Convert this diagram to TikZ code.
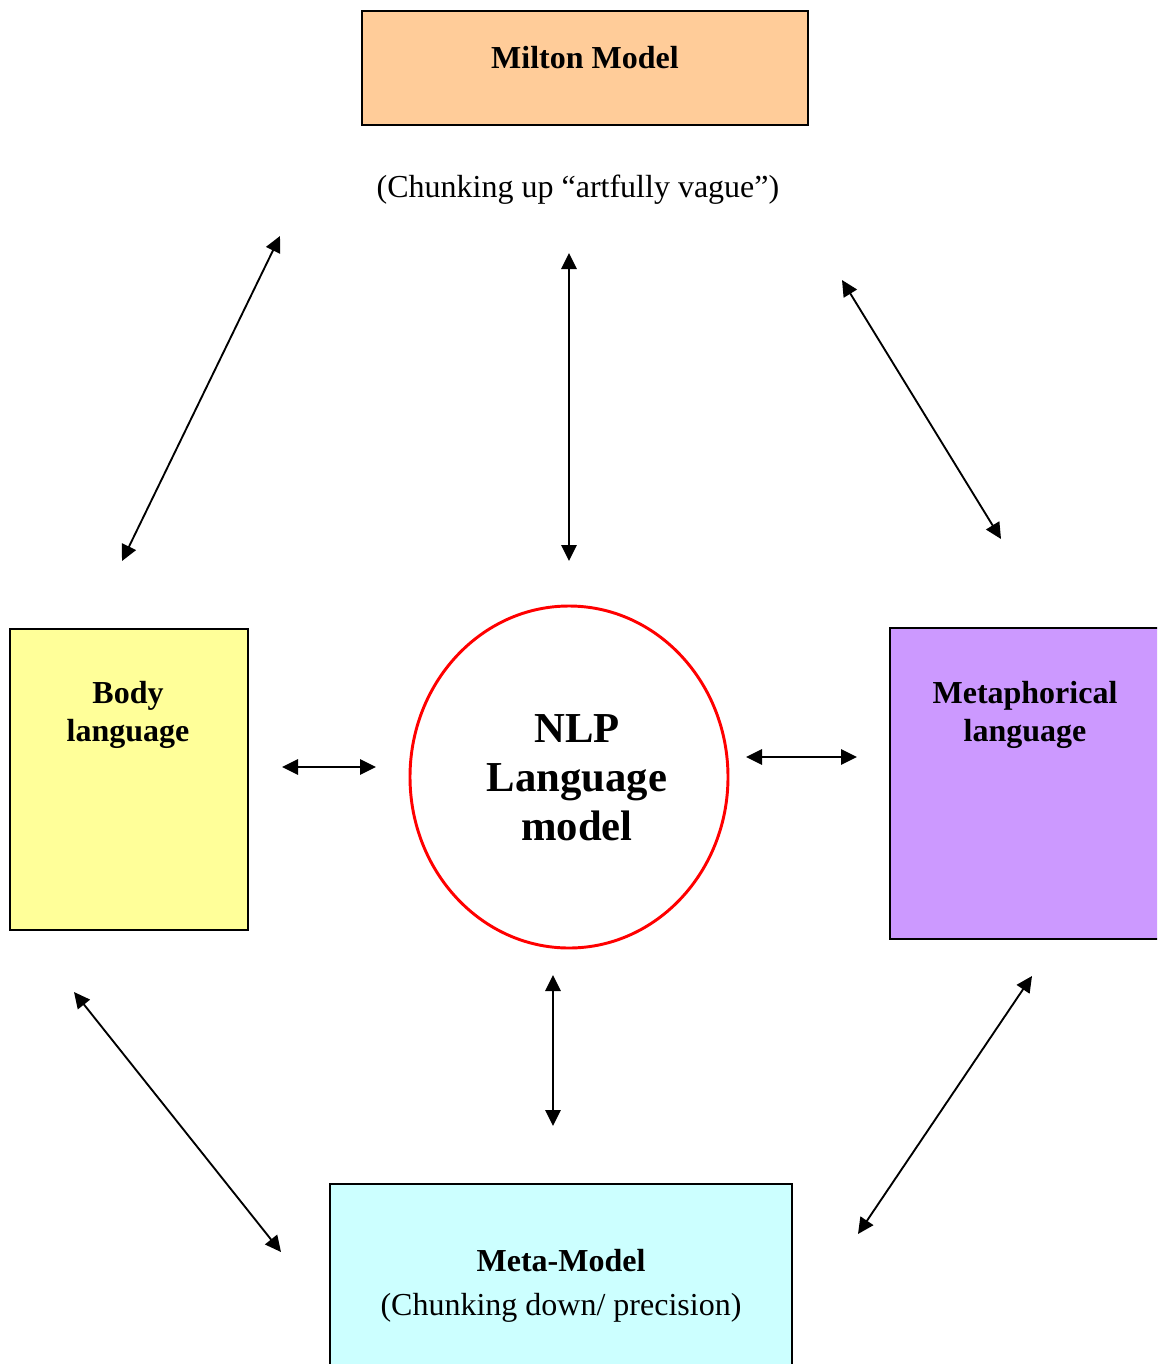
\documentclass[tikz,border=0pt]{standalone}
\usepackage{fontspec}
\setmainfont{Liberation Serif}
\usetikzlibrary{arrows.meta,shapes.geometric}
\definecolor{miltonfill}{HTML}{FFCC99}
\definecolor{bodyfill}{HTML}{FFFF99}
\definecolor{metafill}{HTML}{CC99FF}
\definecolor{modelfill}{HTML}{CCFFFF}
\definecolor{ringred}{HTML}{FF0000}
\tikzset{
  box/.style={draw=black, line width=1.3pt, inner sep=0pt},
  txt/.style={align=center, inner sep=0pt, font=\fontsize{24}{28.5}\selectfont},
  bigtxt/.style={align=center, inner sep=0pt, font=\fontsize{32}{36.75}\selectfont\bfseries},
  dbl/.style={{Triangle[length=12pt,width=11.5pt]}-{Triangle[length=12pt,width=11.5pt]}, line width=1.4pt},
}
\begin{document}
\begin{tikzpicture}[x=0.75pt,y=-0.75pt]
\useasboundingbox (0,0) rectangle (1157,1364);
\clip (0,0) rectangle (1157,1364);
% boxes
\node[box, fill=miltonfill, minimum width=446*0.75pt, minimum height=114*0.75pt] (milton) at (585,68) {};
\node[box, fill=bodyfill, minimum width=238*0.75pt, minimum height=301*0.75pt] (body) at (129,779.5) {};
\node[box, fill=metafill, minimum width=290*0.75pt, minimum height=311*0.75pt] (meta) at (1035,783.5) {};
\node[box, fill=modelfill, minimum width=462*0.75pt, minimum height=210*0.75pt] (metamodel) at (561,1289) {};
\node[draw=ringred, line width=2.2pt, ellipse, minimum width=318*0.75pt, minimum height=342*0.75pt, inner sep=0pt] (nlp) at (569,777) {};
% texts
\node[txt, font=\fontsize{24}{28.5}\selectfont\bfseries] (miltontext) at (585,58) {Milton Model};
\node[txt] (chunkup) at (578,190) {(Chunking up “artfully vague”)};
\node[txt, font=\fontsize{24}{28.5}\selectfont\bfseries] (bodytext) at (128,715) {Body\\language};
\node[txt, font=\fontsize{24}{28.5}\selectfont\bfseries] (metatext) at (1025,715) {Metaphorical\\language};
\node[txt, font=\fontsize{24}{33}\selectfont] (modeltext) at (561,1285.5) {\textbf{Meta-Model}\\(Chunking down/ precision)};
\node[bigtxt] (nlptext) at (577,778) {NLP\\Language\\model};
% arrow end points
\coordinate (tlA) at (122,561);  \coordinate (tlB) at (280,236);
\coordinate (tcA) at (569,253);  \coordinate (tcB) at (569,561);
\coordinate (trA) at (842,280);  \coordinate (trB) at (1001,539);
\coordinate (mlA) at (282,767);  \coordinate (mlB) at (376,767);
\coordinate (mrA) at (746,757);  \coordinate (mrB) at (857,757);
\coordinate (bcA) at (553,975);  \coordinate (bcB) at (553,1126);
\coordinate (blA) at (74,992);   \coordinate (blB) at (281,1252);
\coordinate (brA) at (1032,976); \coordinate (brB) at (858,1234);
% arrows
\draw[dbl] (tlA) -- (tlB);
\draw[dbl] (tcA) -- (tcB);
\draw[dbl] (trA) -- (trB);
\draw[dbl] (mlA) -- (mlB);
\draw[dbl] (mrA) -- (mrB);
\draw[dbl] (bcA) -- (bcB);
\draw[dbl] (blA) -- (blB);
\draw[dbl] (brA) -- (brB);
\end{tikzpicture}
\end{document}
